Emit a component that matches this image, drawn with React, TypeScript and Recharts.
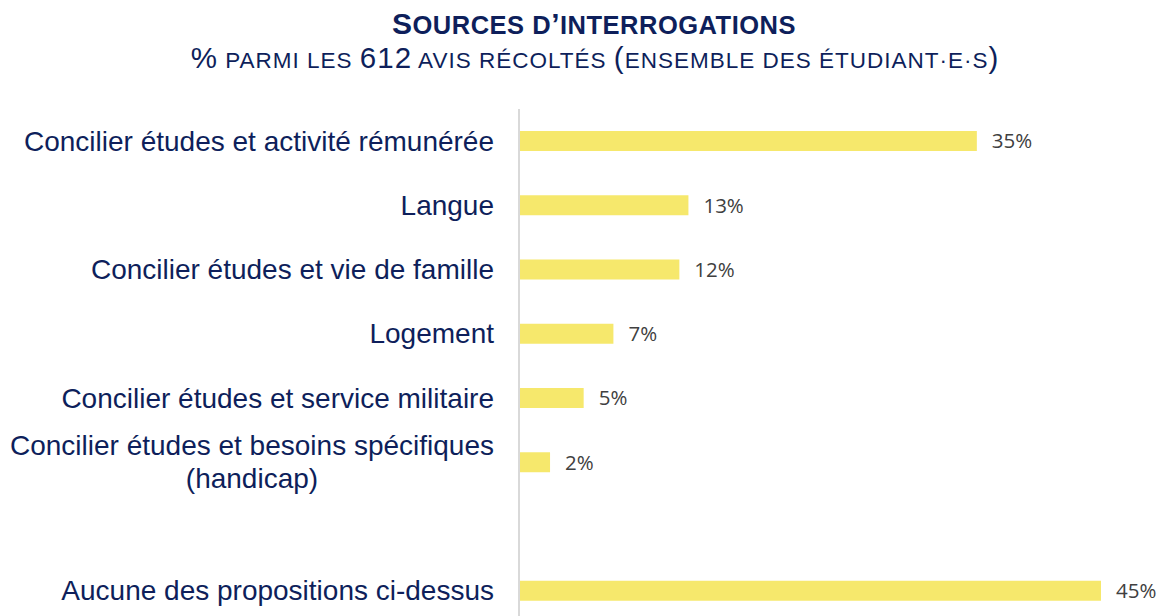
import React from 'react';
import { BarChart, Bar, XAxis, YAxis, LabelList } from 'recharts';

const categories: string[] = [
  'Concilier études et activité rémunérée',
  'Langue',
  'Concilier études et vie de famille',
  'Logement',
  'Concilier études et service militaire',
  'Concilier études et besoins spécifiques\n(handicap)',
  ' ',
  'Aucune des propositions ci-dessus',
];
const values: (number | null)[] = [35.4, 13.1, 12.4, 7.3, 5.0, 2.4, null, 45.0];
const valueLabels: string[] = ['35%', '13%', '12%', '7%', '5%', '2%', '', '45%'];

const title = 'Sources d\u2019interrogations';
const subtitle = '% parmi les 612 avis récoltés (ensemble des étudiant·e·s)';

const data = categories.map((c, i) => ({ name: c, value: values[i], label: valueLabels[i] }));

const NAVY = '#0E1F5B';
const LABEL_FONT = "'Liberation Sans', Arial, sans-serif";
const LABEL_SIZE = 28;

let canvasCtx: CanvasRenderingContext2D | null = null;
function measure(text: string): number {
  if (typeof document === 'undefined') return text.length * LABEL_SIZE * 0.5;
  if (!canvasCtx) canvasCtx = document.createElement('canvas').getContext('2d');
  if (!canvasCtx) return text.length * LABEL_SIZE * 0.5;
  canvasCtx.font = `${LABEL_SIZE}px 'Liberation Sans', Arial, sans-serif`;
  return canvasCtx.measureText(text).width;
}

// manual small caps: lowercase letters -> uppercase at reduced size
function smallCapsRuns(text: string, full: number, small: number) {
  const runs: { t: string; size: number }[] = [];
  for (const ch of text) {
    const isLower = ch !== ch.toUpperCase();
    const isSpace = ch === ' ' || ch === '·';
    const size = isLower || isSpace ? small : full;
    const t = isLower ? ch.toUpperCase() : ch;
    const last = runs[runs.length - 1];
    if (last && last.size === size) last.t += t;
    else runs.push({ t, size });
  }
  return runs;
}

const SmallCapsText = ({ text, x, y, full, small, bold, spacing }: any) => (
  <text x={x} y={y} textAnchor="middle" fill={NAVY} letterSpacing={spacing}
    fontFamily="'Liberation Sans', Arial, sans-serif" fontWeight={bold ? 'bold' : 'normal'}>
    {smallCapsRuns(text, full, small).map((r, i) => (
      <tspan key={i} fontSize={r.size}>{r.t}</tspan>
    ))}
  </text>
);

const CategoryTick = (props: any) => {
  const { x, y, payload } = props;
  const lines: string[] = String(payload.value).split('\n');
  const lineH = 33;
  if (lines.length === 1) {
    return (
      <text x={x} y={y} textAnchor="end" dominantBaseline="central" fill={NAVY}
        fontFamily={LABEL_FONT} fontSize={LABEL_SIZE}>{lines[0]}</text>
    );
  }
  const maxW = Math.max(...lines.map(measure));
  const cx = x - maxW / 2;
  const y0 = y - ((lines.length - 1) * lineH) / 2;
  return (
    <text textAnchor="middle" fill={NAVY} fontFamily={LABEL_FONT} fontSize={LABEL_SIZE}>
      {lines.map((l, i) => (
        <tspan key={i} x={cx} y={y0 + i * lineH} dominantBaseline="central">{l}</tspan>
      ))}
    </text>
  );
};

export default function App() {
  return (
    <div style={{ position: 'absolute', left: 0, top: 0, width: 1160, height: 616, overflow: 'hidden', background: '#fff' }}>
      <svg style={{ position: 'absolute', left: 0, top: 0 }} width={1160} height={90}>
        <SmallCapsText text={title} x={594} y={34.3} full={30} small={25.5} bold spacing={0.5} />
        <SmallCapsText text={subtitle} x={595} y={68.3} full={29.5} small={22.5} spacing={1} />
      </svg>
      <div style={{ position: 'absolute', left: 0, top: 0 }}>
        <BarChart width={1160} height={640} data={data} layout="vertical"
          margin={{ top: 109, right: 59, bottom: 17, left: 0 }}>
          <XAxis type="number" domain={[0, 45]} hide />
          <YAxis type="category" dataKey="name" width={519} axisLine={{ stroke: '#D9D9D9', strokeWidth: 2 }}
            tickLine={false} tickSize={6} tickMargin={19} tick={<CategoryTick />} interval={0} />
          <Bar dataKey="value" fill="#F6E86C" barSize={20} isAnimationActive={false}>
            <LabelList dataKey="label" position="right" offset={15} fill="#404040"
              style={{ fontFamily: "'Open Sans', sans-serif", fontSize: 20.5 }} />
          </Bar>
        </BarChart>
      </div>
    </div>
  );
}
